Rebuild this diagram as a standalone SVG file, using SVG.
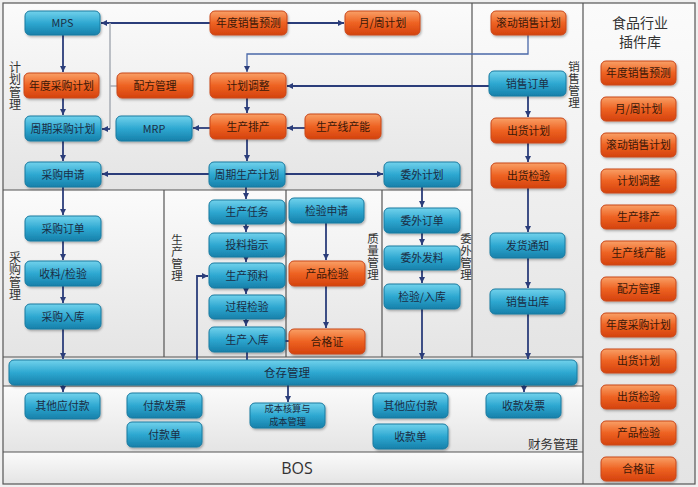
<svg xmlns="http://www.w3.org/2000/svg" width="698" height="487" viewBox="0 0 698 487">
<defs>
<linearGradient id="gb" x1="0" y1="0" x2="0" y2="1"><stop offset="0" stop-color="#72d2ec"/><stop offset="0.5" stop-color="#2ea8d1"/><stop offset="1" stop-color="#1780aa"/></linearGradient>
<linearGradient id="go" x1="0" y1="0" x2="0" y2="1"><stop offset="0" stop-color="#f9a066"/><stop offset="0.5" stop-color="#ee6222"/><stop offset="1" stop-color="#d4420d"/></linearGradient>
<linearGradient id="bg" x1="0" y1="0" x2="0" y2="1"><stop offset="0" stop-color="#fbfbfb"/><stop offset="1" stop-color="#e4e4e4"/></linearGradient>
<filter id="sh" x="-10%" y="-20%" width="125%" height="150%"><feDropShadow dx="1" dy="1.5" stdDeviation="0.8" flood-color="#000" flood-opacity="0.3"/></filter>
<marker id="ar" markerUnits="userSpaceOnUse" markerWidth="7" markerHeight="7" refX="6" refY="3" orient="auto"><path d="M0,0 L6,3 L0,6 z" fill="#2b3d7a"/></marker>
<style>
.b rect{fill:url(#gb);stroke:#1a7aa0;stroke-width:1;filter:url(#sh)}
.o rect{fill:url(#go);stroke:#c9471b;stroke-width:1;filter:url(#sh)}
text{font-family:"Noto Sans CJK SC","Noto Sans",sans-serif}
.b text{font-size:10.8px;fill:#1b2d44;text-anchor:middle}
.o text{font-size:10.8px;fill:#3b1808;text-anchor:middle}
.lbl{font-size:12px;fill:#333;text-anchor:middle}
.v{font-size:12px;fill:#333;writing-mode:vertical-rl;text-anchor:start;letter-spacing:0.5px}
.fr{fill:none;stroke:#555;stroke-width:1.2}
#conn path{fill:none;stroke:#2b3d7a;stroke-width:1.8}
#conn path.a{marker-end:url(#ar)}
#conn path.g{stroke:#a8adb5;stroke-width:1.5}
#conn path.t{stroke:#4a68a8;stroke-width:1.3}
</style>
</defs>
<rect x="0" y="0" width="698" height="487" fill="#f0f0f0"/>
<rect x="3" y="3" width="469" height="187" fill="url(#bg)"/>
<rect x="472" y="3" width="111" height="354" fill="url(#bg)"/>
<rect x="3" y="190" width="469" height="167" fill="url(#bg)"/>
<rect x="3" y="357" width="580" height="29" fill="#e8e8e8"/>
<rect x="3" y="386" width="580" height="66" fill="url(#bg)"/>
<rect x="3" y="452" width="580" height="32" fill="url(#bg)"/>
<rect x="583" y="3" width="112" height="481" fill="url(#bg)"/>
<g id="frame">
<rect class="fr" x="3" y="3" width="692" height="481"/>
<path class="fr" d="M583,3 V484 M472,3 V357 M3,190 H472 M164,190 V357 M286,190 V357 M382,190 V357 M3,357 H583 M3,386 H583 M3,452 H583"/>
</g>
<g id="labels">
<text class="v" x="15" y="61">计划管理</text>
<text class="v" x="15" y="251">采购管理</text>
<text class="v" x="177" y="234" style="font-size:11.5px">生产管理</text>
<text class="v" x="373" y="233" style="font-size:11.5px">质量管理</text>
<text class="v" x="466" y="233" style="font-size:11.5px">委外管理</text>
<text class="v" x="574" y="61" style="font-size:11.5px">销售管理</text>
<text class="lbl" x="553" y="449" style="font-size:12.5px">财务管理</text>
<text x="297" y="474" style="font-family:'Open Sans','DejaVu Sans',sans-serif;font-size:16px;fill:#333;text-anchor:middle">BOS</text>
<text class="lbl" x="640" y="28" style="font-size:14px">食品行业</text>
<text class="lbl" x="640" y="47" style="font-size:14px">插件库</text>
</g>
<g id="conn">
<path class="a" d="M210,23 H101"/>
<path class="a" d="M287,23 H344"/>
<path class="g" d="M110,23 V129 M110,86 H117"/>
<path class="a" d="M110,129 H102"/>
<path class="a" d="M63,35 V72"/>
<path class="a" d="M63,98 V115"/>
<path class="a" d="M63,141 V161"/>
<path class="a" d="M63,187 V215"/>
<path class="a" d="M63,241 V260"/>
<path class="a" d="M63,286 V303"/>
<path class="a" d="M63,329 V359"/>
<path class="a" d="M63,385 V392"/>
<path class="a t" d="M528,35 V54 H247 V72"/>
<path class="a" d="M489,86 H287"/>
<path class="a" d="M247,98 V113"/>
<path class="a" d="M210,128 H193"/>
<path class="a" d="M305,128 H287"/>
<path class="a" d="M247,139 V161"/>
<path class="a" d="M209,174 H102"/>
<path class="a" d="M285,174 H383"/>
<path class="a" d="M528,96 V117"/>
<path class="a" d="M528,143 V162"/>
<path class="a" d="M528,188 V232"/>
<path class="a" d="M528,258 V288"/>
<path class="a" d="M528,314 V359"/>
<path class="a" d="M524,385 V392"/>
<path class="a" d="M246,187 V199"/>
<path class="a" d="M246,224 V232"/>
<path class="a" d="M246,257 V262"/>
<path class="a" d="M246,288 V294"/>
<path class="a" d="M246,319 V326"/>
<path d="M247,352 V360"/>
<path class="a" d="M197,360 V276 H208"/>
<path d="M285,341 H289"/>
<path class="a" d="M326,223 V260"/>
<path class="a" d="M326,286 V328"/>
<path class="a" d="M422,187 V207"/>
<path class="a" d="M422,233 V245"/>
<path class="a" d="M422,270 V283"/>
<path class="a" d="M422,309 V359"/>
<path class="a" d="M288,385 V402"/>
</g>
<g id="bar" class="b"><rect x="9" y="360" width="568" height="25" rx="5"/><text x="287" y="376.5" style="font-size:11.5px">仓存管理</text></g>
<g id="n-mps" class="b"><rect x="25" y="11" width="75" height="24" rx="5"/><text x="62.5" y="27">MPS</text></g>
<g id="n-ndxsyc" class="o"><rect x="210" y="11" width="77" height="24" rx="5"/><text x="248.5" y="27">年度销售预测</text></g>
<g id="n-yzjh" class="o"><rect x="345" y="11" width="75" height="24" rx="5"/><text x="382.5" y="27">月/周计划</text></g>
<g id="n-gdxsjh" class="o"><rect x="491" y="11" width="75" height="24" rx="5"/><text x="528.5" y="27">滚动销售计划</text></g>
<g id="n-ndcgjh" class="o"><rect x="24" y="73" width="75" height="25" rx="5"/><text x="61.5" y="89.5">年度采购计划</text></g>
<g id="n-pfgl" class="o"><rect x="117" y="73" width="76" height="25" rx="5"/><text x="155" y="89.5">配方管理</text></g>
<g id="n-jhtz" class="o"><rect x="210" y="73" width="76" height="25" rx="5"/><text x="248" y="89.5">计划调整</text></g>
<g id="n-xsdd" class="b"><rect x="489" y="71" width="77" height="25" rx="5"/><text x="527.5" y="87.5">销售订单</text></g>
<g id="n-zqcgjh" class="b"><rect x="25" y="116" width="76" height="25" rx="5"/><text x="63" y="132.5">周期采购计划</text></g>
<g id="n-mrp" class="b"><rect x="116" y="116" width="76" height="25" rx="5"/><text x="154" y="132.5">MRP</text></g>
<g id="n-scpc" class="o"><rect x="210" y="114" width="76" height="25" rx="5"/><text x="248" y="130.5">生产排产</text></g>
<g id="n-scxcn" class="o"><rect x="305" y="114" width="76" height="25" rx="5"/><text x="343" y="130.5">生产线产能</text></g>
<g id="n-chjh" class="o"><rect x="491" y="118" width="75" height="25" rx="5"/><text x="528.5" y="134.5">出货计划</text></g>
<g id="n-cgsq" class="b"><rect x="25" y="162" width="76" height="25" rx="5"/><text x="63" y="178.5">采购申请</text></g>
<g id="n-zqscjh" class="b"><rect x="209" y="162" width="76" height="25" rx="5"/><text x="247" y="178.5">周期生产计划</text></g>
<g id="n-wwjh" class="b"><rect x="384" y="162" width="76" height="25" rx="5"/><text x="422" y="178.5">委外计划</text></g>
<g id="n-chjy" class="o"><rect x="491" y="163" width="75" height="25" rx="5"/><text x="528.5" y="179.5">出货检验</text></g>
<g id="n-cgdd" class="b"><rect x="25" y="216" width="76" height="25" rx="5"/><text x="63" y="232.5">采购订单</text></g>
<g id="n-sljy" class="b"><rect x="25" y="261" width="76" height="25" rx="5"/><text x="63" y="277.5">收料/检验</text></g>
<g id="n-cgrk" class="b"><rect x="25" y="304" width="76" height="25" rx="5"/><text x="63" y="320.5">采购入库</text></g>
<g id="n-scrw" class="b"><rect x="209" y="200" width="76" height="24" rx="5"/><text x="247" y="216">生产任务</text></g>
<g id="n-tlzs" class="b"><rect x="209" y="233" width="76" height="24" rx="5"/><text x="247" y="249">投料指示</text></g>
<g id="n-scyl" class="b"><rect x="209" y="263" width="76" height="25" rx="5"/><text x="247" y="279.5">生产预料</text></g>
<g id="n-gcjy" class="b"><rect x="209" y="295" width="76" height="24" rx="5"/><text x="247" y="311">过程检验</text></g>
<g id="n-scrk" class="b"><rect x="209" y="327" width="76" height="25" rx="5"/><text x="247" y="343.5">生产入库</text></g>
<g id="n-jysq" class="b"><rect x="289" y="198" width="75" height="25" rx="5"/><text x="326.5" y="214.5">检验申请</text></g>
<g id="n-cpjy" class="o"><rect x="289" y="261" width="76" height="25" rx="5"/><text x="327" y="277.5">产品检验</text></g>
<g id="n-hgz" class="o"><rect x="289" y="329" width="76" height="25" rx="5"/><text x="327" y="345.5">合格证</text></g>
<g id="n-wwdd" class="b"><rect x="384" y="208" width="76" height="25" rx="5"/><text x="422" y="224.5">委外订单</text></g>
<g id="n-wwfl" class="b"><rect x="384" y="246" width="76" height="24" rx="5"/><text x="422" y="262">委外发料</text></g>
<g id="n-jyrk" class="b"><rect x="384" y="284" width="76" height="25" rx="5"/><text x="422" y="300.5">检验/入库</text></g>
<g id="n-fhtz" class="b"><rect x="490" y="233" width="75" height="25" rx="5"/><text x="527.5" y="249.5">发货通知</text></g>
<g id="n-xsck" class="b"><rect x="490" y="289" width="75" height="25" rx="5"/><text x="527.5" y="305.5">销售出库</text></g>
<g id="n-qtyfk1" class="b"><rect x="25" y="393" width="75" height="26" rx="5"/><text x="62.5" y="410">其他应付款</text></g>
<g id="n-fkfp" class="b"><rect x="127" y="393" width="75" height="25" rx="5"/><text x="164.5" y="409.5">付款发票</text></g>
<g id="n-fkd" class="b"><rect x="127" y="422" width="75" height="25" rx="5"/><text x="164.5" y="438.5">付款单</text></g>
<g id="n-cbhs" class="b"><rect x="250" y="403" width="75" height="25" rx="5"/><text x="287.5" y="412" style="font-size:9.2px"><tspan x="287.5" y="412">成本核算与</tspan><tspan x="287.5" y="425.4">成本管理</tspan></text></g>
<g id="n-qtyfk2" class="b"><rect x="373" y="393" width="75" height="25" rx="5"/><text x="410.5" y="409.5">其他应付款</text></g>
<g id="n-skd" class="b"><rect x="373" y="424" width="75" height="25" rx="5"/><text x="410.5" y="440.5">收款单</text></g>
<g id="n-skfp" class="b"><rect x="486" y="393" width="75" height="25" rx="5"/><text x="523.5" y="409.5">收款发票</text></g>
<g id="lib">
<g id="p1" class="o"><rect x="601" y="61" width="75" height="24" rx="5"/><text x="638.5" y="77">年度销售预测</text></g>
<g id="p2" class="o"><rect x="601" y="97" width="75" height="24" rx="5"/><text x="638.5" y="113">月/周计划</text></g>
<g id="p3" class="o"><rect x="601" y="133" width="75" height="24" rx="5"/><text x="638.5" y="149">滚动销售计划</text></g>
<g id="p4" class="o"><rect x="601" y="169" width="75" height="24" rx="5"/><text x="638.5" y="185">计划调整</text></g>
<g id="p5" class="o"><rect x="601" y="205" width="75" height="24" rx="5"/><text x="638.5" y="221">生产排产</text></g>
<g id="p6" class="o"><rect x="601" y="241" width="75" height="24" rx="5"/><text x="638.5" y="257">生产线产能</text></g>
<g id="p7" class="o"><rect x="601" y="277" width="75" height="24" rx="5"/><text x="638.5" y="293">配方管理</text></g>
<g id="p8" class="o"><rect x="601" y="313" width="75" height="24" rx="5"/><text x="638.5" y="329">年度采购计划</text></g>
<g id="p9" class="o"><rect x="601" y="349" width="75" height="24" rx="5"/><text x="638.5" y="365">出货计划</text></g>
<g id="p10" class="o"><rect x="601" y="385" width="75" height="24" rx="5"/><text x="638.5" y="401">出货检验</text></g>
<g id="p11" class="o"><rect x="601" y="421" width="75" height="24" rx="5"/><text x="638.5" y="437">产品检验</text></g>
<g id="p12" class="o"><rect x="601" y="457" width="75" height="24" rx="5"/><text x="638.5" y="473">合格证</text></g>
</g>
</svg>
